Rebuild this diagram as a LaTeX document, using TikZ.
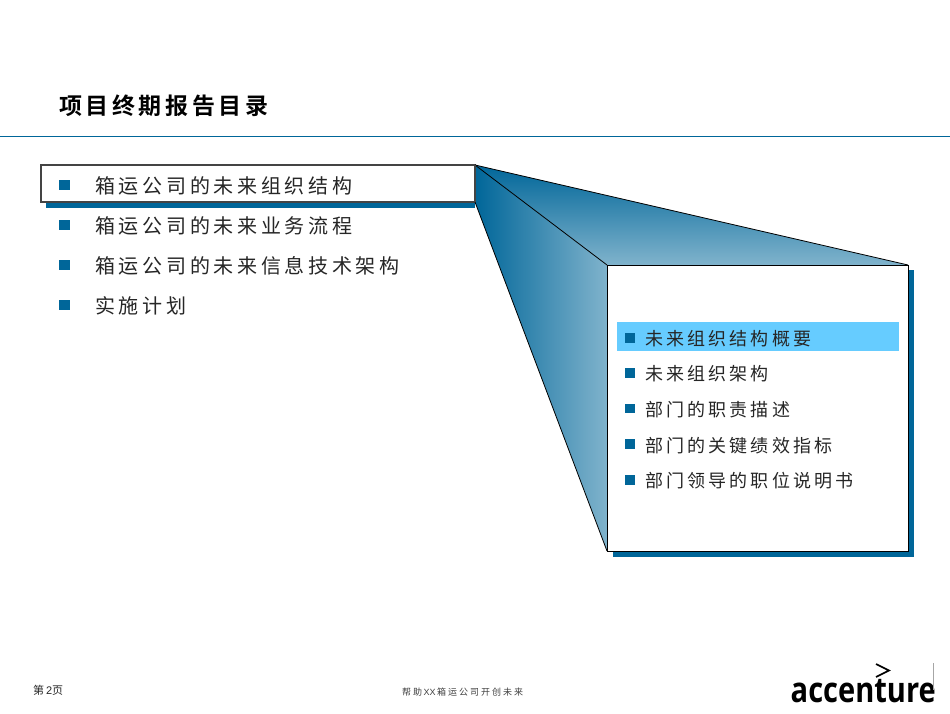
\documentclass[tikz,border=0pt]{standalone}
\usepackage{fontspec}
\usetikzlibrary{calc}
\setmainfont{Liberation Sans}
\newfontfamily\cjkbig[LetterSpace=18.5]{Noto Sans CJK SC}
\newfontfamily\cjkmid[LetterSpace=17.5]{Noto Sans CJK SC}
\newfontfamily\cjktitle[LetterSpace=15.5,BoldFont={Noto Sans CJK SC Bold}]{Noto Sans CJK SC}
\newfontfamily\cjkfoot[LetterSpace=22]{Noto Sans CJK SC}
\newfontfamily\cjkplain{Noto Sans CJK SC}
\newfontfamily\logofont{Open Sans}
\definecolor{brandblue}{HTML}{006699}
\definecolor{lightblue}{HTML}{80B3CC}
\definecolor{hilite}{HTML}{66CCFF}
\definecolor{edgegrey}{HTML}{444444}
\tikzset{
  titletext/.style={anchor=west,inner sep=0pt,font=\cjktitle\bfseries\fontsize{23}{23}\selectfont,text=black},
  itembig/.style={anchor=west,inner sep=0pt,font=\cjkbig\fontsize{20}{20}\selectfont,text=black!85},
  itemmid/.style={anchor=west,inner sep=0pt,font=\cjkmid\fontsize{18}{18}\selectfont,text=black!85},
  bulletbig/.style={fill=brandblue,inner sep=0pt,minimum size=10.5pt,anchor=center},
  bulletmid/.style={fill=brandblue,inner sep=0pt,minimum size=9.5pt,anchor=center},
  framebox/.style={draw=edgegrey,line width=1.2pt,fill=white,inner sep=0pt,outer sep=0pt,anchor=north west},
  shadowbox/.style={fill=brandblue,inner sep=0pt,outer sep=0pt,anchor=north west},
  funnelline/.style={draw=black,line width=0.8pt},
}
\begin{document}
\begin{tikzpicture}[x=1pt,y=-1pt]
\useasboundingbox (0,0) rectangle (950,713);
\fill[white] (0,0) rectangle (950,713);
% rule under the title
\coordinate (ruleL) at (0,136);
\coordinate (ruleR) at (950,136);
\draw[brandblue,line width=1pt] (ruleL) -- (ruleR);
\node[titletext] (title) at (59,106) {项目终期报告目录};
% shadows
\node[shadowbox,minimum width=429pt,minimum height=37pt] (listshadow) at (46,171) {};
\node[shadowbox,minimum width=301pt,minimum height=287pt] (panelshadow) at (612.5,270) {};
% frames
\node[framebox,minimum width=434pt,minimum height=37pt] (listbox) at (41,165) {};
% funnel faces
\coordinate (a) at (listbox.north east);
\coordinate (b) at (listbox.south east);
\coordinate (c) at (607,265);
\coordinate (d) at (908,265);
\coordinate (e) at (607,551);
\shade[left color=brandblue,right color=lightblue] (a) -- (c) -- (e) -- (b) -- cycle;
\shade[top color=brandblue,bottom color=lightblue] (a) -- (d) -- (c) -- cycle;
\node[framebox,draw=black,line width=1pt,minimum width=301pt,minimum height=286pt] (panel) at (c) {};
\draw[funnelline] (a) -- (panel.north west);
\draw[funnelline] (a) -- (panel.north east);
\draw[funnelline] (b) -- (panel.south west);
\draw[edgegrey,line width=1.2pt] (a) -- (b);
% left list
\node[bulletbig] (lb1) at (64.5,185) {};
\node[bulletbig] (lb2) at (64.5,225) {};
\node[bulletbig] (lb3) at (64.5,265) {};
\node[bulletbig] (lb4) at (64.5,305) {};
\node[itembig] (lt1) at (95,186) {箱运公司的未来组织结构};
\node[itembig] (lt2) at (95,226) {箱运公司的未来业务流程};
\node[itembig] (lt3) at (95,266) {箱运公司的未来信息技术架构};
\node[itembig] (lt4) at (95,306) {实施计划};
% panel list
\node[fill=hilite,inner sep=0pt,outer sep=0pt,anchor=north west,minimum width=282pt,minimum height=29pt] (hl) at (617,322) {};
\node[bulletmid] (pb1) at (630,338) {};
\node[bulletmid] (pb2) at (630,373) {};
\node[bulletmid] (pb3) at (630,408.5) {};
\node[bulletmid] (pb4) at (630,444) {};
\node[bulletmid] (pb5) at (630,480) {};
\node[itemmid] (pt1) at (645,338.5) {未来组织结构概要};
\node[itemmid] (pt2) at (645,374) {未来组织架构};
\node[itemmid] (pt3) at (645,410) {部门的职责描述};
\node[itemmid] (pt4) at (645,445.5) {部门的关键绩效指标};
\node[itemmid] (pt5) at (645,481) {部门领导的职位说明书};
% footer
\node[anchor=west,inner sep=0pt,font=\fontsize{11}{11}\selectfont,text=black!85] (page) at (33,690) {{\cjkplain 第}\,2{\cjkplain 页}};
\node[anchor=west,inner sep=0pt,font=\fontsize{9}{9}\selectfont,text=black!75] (slogan) at (402,692) {{\cjkfoot 帮助}\,XX\,{\cjkfoot 箱运公司开创未来}};
% logo
\node[anchor=west,inner sep=0pt,font=\logofont\bfseries\fontsize{35}{35}\selectfont,text=black] (logo) at (790.5,691) {\scalebox{0.83}[1]{accenture}};
\coordinate (gt1) at (876,664);
\coordinate (gt2) at (889,670.5);
\coordinate (gt3) at (876,677);
\draw[black,line width=1.7pt] (gt1) -- (gt2) -- (gt3);
\coordinate (barT) at (933.5,663);
\coordinate (barB) at (933.5,690);
\draw[black!35,line width=0.6pt] (barT) -- (barB);
\end{tikzpicture}
\end{document}
